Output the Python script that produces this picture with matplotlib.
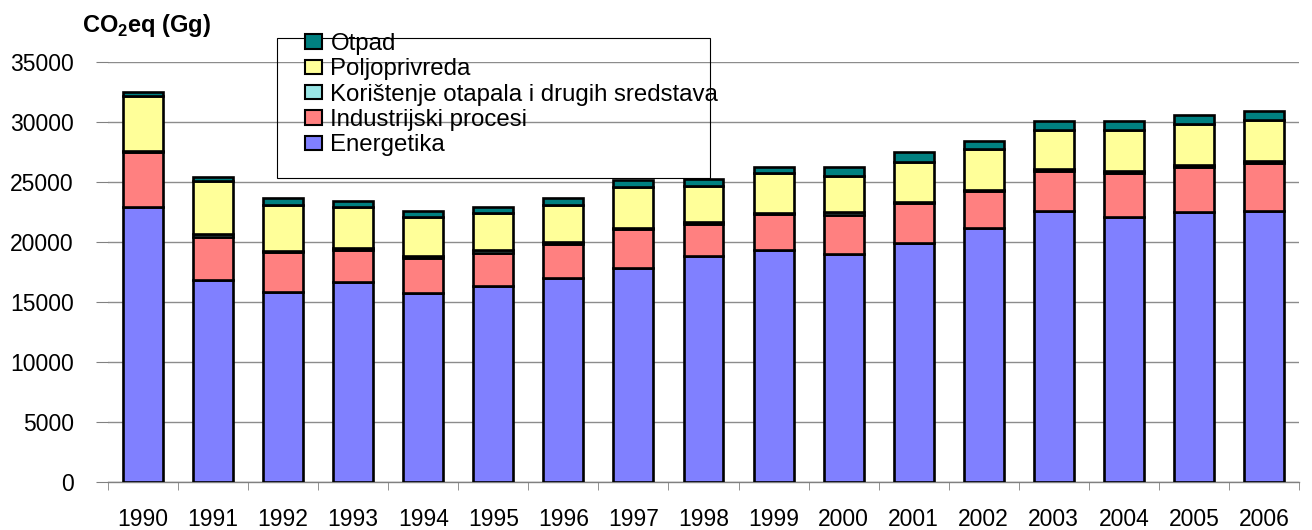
import numpy as np
import matplotlib
matplotlib.use('Agg')
import matplotlib.pyplot as plt
from matplotlib.patches import Rectangle

# Emissions by sector, Gg CO2eq
years = ['1990', '1991', '1992', '1993', '1994', '1995', '1996', '1997', '1998',
         '1999', '2000', '2001', '2002', '2003', '2004', '2005', '2006']
energetika = [22950, 16830, 15860, 16690, 15730, 16330, 17030, 17860, 18860,
              19330, 19000, 19940, 21140, 22580, 22110, 22470, 22580]
industrija = [4530, 3610, 3320, 2680, 2910, 2780, 2780, 3230, 2680,
              2990, 3250, 3320, 3090, 3330, 3660, 3800, 3970]
otapala = [100, 230, 100, 100, 210, 220, 220, 100, 100,
           120, 280, 100, 100, 170, 140, 140, 190]
poljoprivreda = [4600, 4420, 3800, 3470, 3250, 3110, 3060, 3370, 3050,
                 3280, 3000, 3330, 3390, 3250, 3420, 3420, 3420]
otpad = [350, 360, 560, 500, 500, 500, 610, 610, 560,
         550, 750, 780, 720, 750, 750, 750, 750]

labels = ['Energetika', 'Industrijski procesi', 'Korištenje otapala i drugih sredstava',
          'Poljoprivreda', 'Otpad']
colors = ['#8080FF', '#FF8080', '#99E6E6', '#FFFF99', '#008080']

plt.rcParams['font.family'] = ['Liberation Sans', 'DejaVu Sans']
plt.rcParams['mathtext.fontset'] = 'custom'
plt.rcParams['mathtext.rm'] = 'Liberation Sans'
plt.rcParams['mathtext.bf'] = 'Liberation Sans:bold'

W, H = 1312, 530
fig = plt.figure(figsize=(W / 100, H / 100), dpi=100)
ax = fig.add_axes([108 / W, 48 / H, 1191 / W, 420 / H])

x = np.arange(len(years))
bottom = np.zeros(len(years))
bars = []
for vals, lab, col in zip([energetika, industrija, otapala, poljoprivreda, otpad], labels, colors):
    b = ax.bar(x, vals, 0.57, bottom=bottom, color=col, edgecolor='black',
               linewidth=1.9, label=lab, zorder=3)
    bars.append(b)
    bottom += np.array(vals)

ax.set_xlim(-0.5, len(years) - 0.5)
ax.set_ylim(0, 35000)
ax.set_yticks(np.arange(0, 35001, 5000))
ax.grid(axis='y', color='#8c8c8c', linewidth=1, zorder=0)

ax.set_xticks(x)
ax.set_xticklabels(years)
ax.set_xticks(np.arange(-0.5, len(years)), minor=True)
ax.tick_params(axis='x', which='major', length=0, pad=18.5, labelsize=16.5)
ax.tick_params(axis='x', which='minor', length=6, color='#808080', direction='out')
ax.tick_params(axis='y', length=8.5, color='#808080', direction='out', pad=16, labelsize=16.5)

for s in ['left', 'right', 'top']:
    ax.spines[s].set_visible(False)
ax.spines['bottom'].set_color('#808080')
ax.spines['bottom'].set_linewidth(1)

# title top left
fig.text(82 / W, 1 - 32 / H, r'CO$_\mathbf{2}$eq (Gg)', fontsize=17, fontweight='bold',
         va='baseline', ha='left')

# legend, reversed order, inside a separate box
leg = fig.legend(bars[::-1], labels[::-1], loc='upper left',
                 bbox_to_anchor=(305 / W, 1 - 33 / H), bbox_transform=fig.transFigure,
                 frameon=False, fontsize=17.3, borderpad=0, borderaxespad=0,
                 handlelength=0.7, handleheight=0.54, handletextpad=0.36,
                 labelspacing=0.14)
for h in leg.legend_handles:
    h.set_linewidth(1.5)
box = Rectangle((277 / W, 1 - 178 / H), 433 / W, 140 / H, transform=fig.transFigure,
                fill=False, edgecolor='black', linewidth=0.8)
fig.patches.append(box)

fig.savefig('out.png', dpi=100)
